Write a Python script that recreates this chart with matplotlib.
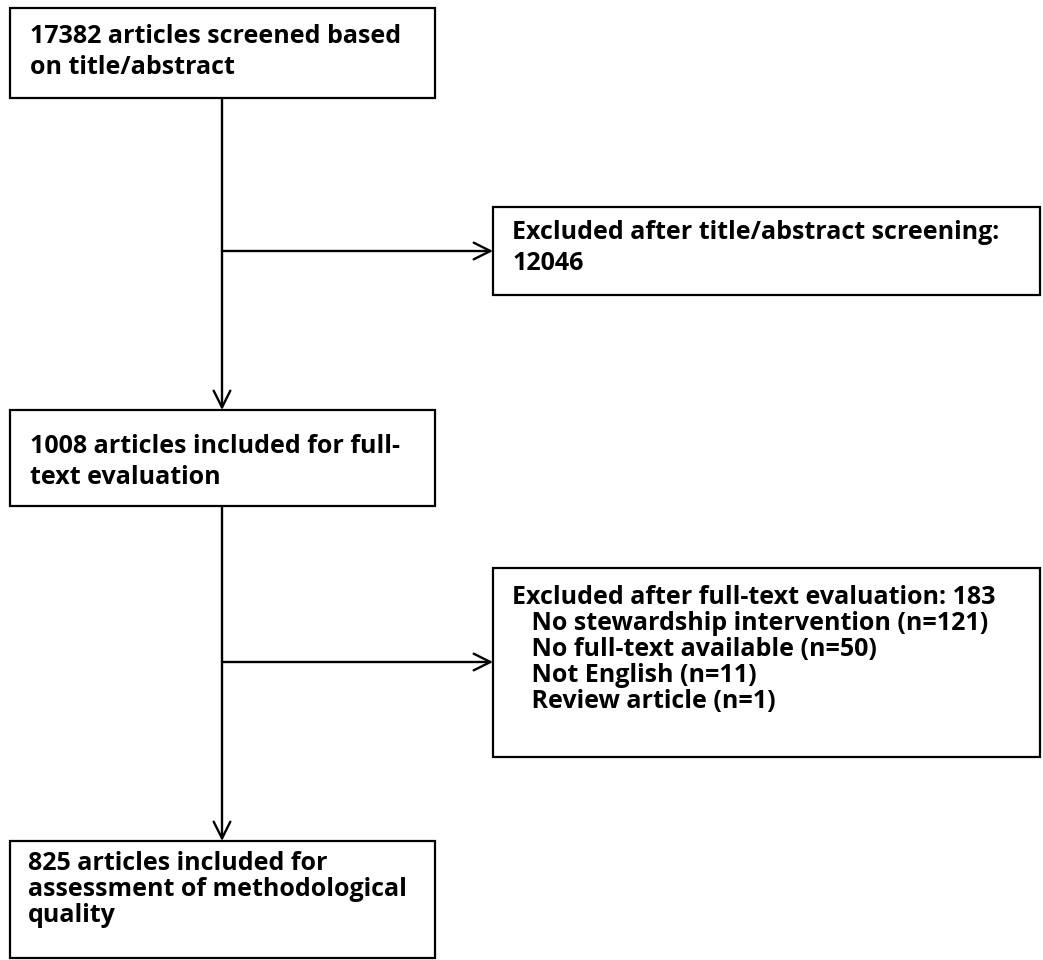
#!/usr/bin/env python3
"""Flow diagram of article screening (recreated with matplotlib)."""

import matplotlib.pyplot as plt
from matplotlib.patches import Rectangle

# Box texts
main_steps = [
    "17382 articles screened based\non title/abstract",
    "1008 articles included for full-\ntext evaluation",
    "825 articles included for\nassessment of methodological\nquality",
]
exclusions = [
    "Excluded after title/abstract screening:\n12046",
    "Excluded after full-text evaluation: 183\n"
    "   No stewardship intervention (n=121)\n"
    "   No full-text available (n=50)\n"
    "   Not English (n=11)\n"
    "   Review article (n=1)",
]

# layout in pixels (x0, y0, x1, y1), y measured from the top
main_boxes = [(10, 8, 435, 98), (10, 410, 435, 506), (10, 841, 435, 958)]
excl_boxes = [(493, 207, 1040, 295), (493, 568, 1040, 757)]
main_pad = [(20, 16), (20, 24), (18, 10)]
excl_pad = [(19, 13), (19, 17)]
main_spacing = [1.3, 1.3, 1.05]
excl_spacing = [1.3, 1.05]
spine_x = 222
side_arrow_y = [251, 662]

fig = plt.figure(figsize=(10.43, 9.6), dpi=100)
ax = fig.add_axes([0, 0, 1, 1])
ax.set_xlim(0, 1043)
ax.set_ylim(960, 0)
ax.axis('off')


def draw_box(box, text, pad, spacing):
    x0, y0, x1, y1 = box
    ax.add_patch(Rectangle((x0, y0), x1 - x0, y1 - y0, fill=False,
                           edgecolor='black', linewidth=1.6))
    ax.text(x0 + pad[0], y0 + pad[1], text, ha='left', va='top',
            family='Open Sans', fontsize=18, fontweight='bold',
            color='black', linespacing=spacing)


for box, text, pad, sp in zip(main_boxes, main_steps, main_pad, main_spacing):
    draw_box(box, text, pad, sp)
for box, text, pad, sp in zip(excl_boxes, exclusions, excl_pad, excl_spacing):
    draw_box(box, text, pad, sp)

arrow = dict(arrowstyle='->', color='black', lw=1.7, mutation_scale=30,
             shrinkA=0, shrinkB=0)

# vertical arrows between the main boxes
for upper, lower in zip(main_boxes[:-1], main_boxes[1:]):
    ax.annotate('', xy=(spine_x, lower[1]), xytext=(spine_x, upper[3]),
                arrowprops=arrow)

# side arrows to the exclusion boxes
for ey, box in zip(side_arrow_y, excl_boxes):
    ax.annotate('', xy=(box[0], ey), xytext=(spine_x, ey), arrowprops=arrow)

fig.savefig('out.png', dpi=100)
